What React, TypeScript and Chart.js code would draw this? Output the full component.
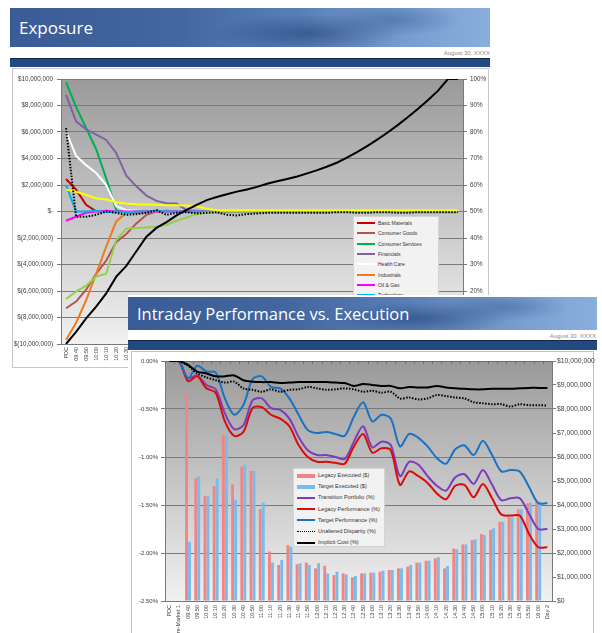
import React, { useEffect, useRef } from 'react';
import { Chart, registerables } from 'chart.js';

Chart.register(...registerables);
Chart.defaults.font.family = "'Liberation Sans', Arial, sans-serif";

// ---------- Exposure chart data ($ millions, % for completion) ----------
const timeLabels = [
  '09:40', '09:50', '10:00', '10:10', '10:20', '10:30', '10:40', '10:50', '11:00', '11:10',
  '11:20', '11:30', '11:40', '11:50', '12:00', '12:10', '12:20', '12:30', '12:40', '12:50',
  '13:00', '13:10', '13:20', '13:30', '13:40', '13:50', '14:00', '14:10', '14:20', '14:30',
  '14:40', '14:50', '15:00', '15:10', '15:20', '15:30', '15:40', '15:50', '16:00',
];
const exposureLabels = ['PDC', ...timeLabels];

const basicMaterials = [
  2.45, 1.65, 0.5, 0.02, 0, -0.04, 0, 0.02, 0, 0,
  0, 0, 0, 0, 0, 0, 0, 0, 0, 0,
  0, 0, 0, 0, 0, 0, 0, 0, 0, 0,
  0, 0, 0, 0, 0, 0, 0, 0, 0, 0,
];
const consumerGoods = [
  -7.3, -6.8, -5.9, -4.7, -3.7, -2.3, -1.7, -0.9, -0.25, 0,
  0.05, 0.02, 0, 0, 0, 0, 0, 0, 0, 0,
  0, 0, 0, 0, 0, 0, 0, 0, 0, 0,
  0, 0, 0, 0, 0, 0, 0, 0, 0, 0,
];
const consumerServices = [
  9.76, 7.9, 6.3, 4.7, 2.5, 0.1, -0.1, -0.1, -0.05, 0,
  0, 0, 0, 0, 0, 0, 0, 0, 0, 0,
  0, 0, 0, 0, 0, 0, 0, 0, 0, 0,
  0, 0, 0, 0, 0, 0, 0, 0, 0, 0,
];
const financials = [
  8.8, 6.8, 6.2, 5.8, 5.4, 4.4, 2.7, 1.9, 1.2, 0.8,
  0.62, 0.6, 0.1, 0.05, 0, 0, 0, 0, 0, 0,
  0, 0, 0, 0, 0, 0, 0, 0, 0, 0,
  0, 0, 0, 0, 0, 0, 0, 0, 0, 0,
];
const healthCare = [
  6.05, 4.2, 3.5, 2.9, 2.0, 0.4, 0.1, 0.05, 0, 0,
  0, 0, 0, 0, 0, 0, 0, 0, 0, 0,
  0, 0, 0, 0, 0, 0, 0, 0, 0, 0,
  0, 0, 0, 0, 0, 0, 0, 0, 0, 0,
];
const industrials = [
  -9.7, -8.4, -6.7, -4.7, -2.65, -0.75, -0.1, 0, 0.02, 0,
  0, 0, 0, 0, -0.05, -0.08, -0.08, -0.05, -0.05, -0.05,
  -0.05, -0.05, -0.05, -0.05, -0.05, -0.05, -0.05, 0, 0, 0,
  0, 0, 0, 0, 0, 0, 0, 0, 0, 0,
];
const oilGas = [
  -0.7, -0.4, -0.1, 0, 0.05, 0, 0, 0, 0, 0,
  0, 0, 0, 0, 0, 0, 0, 0, 0, 0,
  0, 0, 0, 0, 0, 0, 0, 0, 0, 0,
  0, 0, 0, 0, 0, 0, 0, 0, 0, 0,
];
const technology = [
  2.0, 0, 0, 0.05, -0.05, 0, -0.05, 0, 0, 0.05,
  0, 0, 0, 0, 0, 0, 0, 0, 0, 0,
  0, 0, 0, 0, 0, 0, 0, 0, 0, 0,
  0, 0, 0, 0, 0, 0, 0, 0, 0, 0,
];
const telecom = [
  -6.6, -6.05, -5.6, -4.9, -4.7, -2.15, -1.3, -1.25, -1.2, -1.15,
  -1.0, -0.7, -0.45, -0.2, -0.05, 0, 0, 0, 0, 0,
  0, 0, 0, 0, 0, 0, 0, 0, 0, 0,
  0, 0, 0, 0, 0, 0, 0, 0, 0, 0,
];
const utilities = [
  1.65, 1.5, 1.25, 1.0, 0.9, 0.7, 0.6, 0.55, 0.52, 0.5,
  0.48, 0.47, 0.45, 0.4, 0.2, 0.1, 0.1, 0.1, 0.1, 0.1,
  0.1, 0.1, 0.1, 0.1, 0.1, 0.1, 0.1, 0.1, 0.1, 0.1,
  0.1, 0.1, 0.1, 0.1, 0.1, 0.1, 0.1, 0.1, 0.1, 0.1,
];
const netExposure = [
  6.3, -0.4, -0.4, -0.25, 0, -0.1, -0.25, -0.2, -0.1, 0.1,
  -0.25, -0.1, -0.05, -0.15, -0.1, -0.05, -0.25, -0.3, -0.2, -0.15,
  -0.1, -0.1, -0.1, -0.1, -0.1, -0.1, -0.1, -0.05, -0.05, -0.1,
  -0.1, -0.05, -0.05, -0.1, -0.1, -0.05, -0.05, -0.05, -0.05, -0.05,
];
const completionPct = [
  0, 4.6, 9.7, 14.1, 19.1, 25.4, 29.5, 35, 40.5, 43.8,
  46, 48.5, 50.6, 52.5, 54.3, 55.5, 56.5, 57.5, 58.3, 59.3,
  60.5, 61.4, 62.3, 63.2, 64.4, 65.6, 67, 68.5, 70.4, 72.5,
  74.8, 77.2, 79.8, 82.6, 85.6, 88.7, 92, 95.5, 100, 100,
];

const exposureSeries = [
  { name: 'Basic Materials', data: basicMaterials, color: '#c80000' },
  { name: 'Consumer Goods', data: consumerGoods, color: '#b5524e' },
  { name: 'Consumer Services', data: consumerServices, color: '#00b050' },
  { name: 'Financials', data: financials, color: '#7f62a6' },
  { name: 'Health Care', data: healthCare, color: '#ffffff' },
  { name: 'Industrials', data: industrials, color: '#f07a1e' },
  { name: 'Oil & Gas', data: oilGas, color: '#ff00ff' },
  { name: 'Technology', data: technology, color: '#00b0f0' },
  { name: 'Telecommunications', data: telecom, color: '#92d050' },
  { name: 'Utilities', data: utilities, color: '#ffff00' },
];

// ---------- Performance chart data ----------
const perfLabels = ['PDC', 'Pre-Market 1', ...timeLabels, 'Day 2'];

const legacyExecuted = [
  null, null, 8.72, 5.11, 4.38, 4.79, 6.92, 4.86, 5.6, 5.42,
  3.83, 2.06, 1.5, 2.33, 1.53, 1.6, 1.36, 1.47, 1.08, 1.15,
  0.99, 1.15, 1.18, 1.22, 1.29, 1.36, 1.43, 1.6, 1.68, 1.78,
  1.36, 2.19, 2.36, 2.54, 2.79, 2.96, 3.3, 3.51, 3.82, 4.07,
  4.14, null,
];
const targetExecuted = [
  null, null, 2.47, 5.18, 4.38, 5.11, 6.92, 4.21, 5.69, 5.42,
  4.11, 1.61, 1.71, 2.26, 1.57, 1.5, 1.57, 1.15, 1.22, 1.11,
  1.04, 1.15, 1.18, 1.26, 1.29, 1.36, 1.5, 1.6, 1.68, 1.82,
  1.46, 2.15, 2.36, 2.57, 2.75, 3.03, 3.3, 3.49, 3.82, 4.1,
  4.14, null,
];
const transitionPortfolio = [
  0, 0, -0.18, -0.15, -0.25, -0.295, -0.545, -0.71, -0.67, -0.41,
  -0.39, -0.49, -0.51, -0.6, -0.79, -0.93, -0.98, -0.98, -1.0, -1.02,
  -0.84, -0.68, -0.9, -0.84, -0.875, -1.2, -1.05, -1.08, -1.2, -1.3,
  -1.35, -1.21, -1.18, -1.28, -1.135, -1.29, -1.45, -1.43, -1.43, -1.59,
  -1.75, -1.75,
];
const legacyPerformance = [
  0, 0, -0.21, -0.16, -0.285, -0.33, -0.63, -0.78, -0.74, -0.49,
  -0.48, -0.56, -0.6, -0.68, -0.875, -1.0, -1.05, -1.05, -1.06, -1.07,
  -0.89, -0.76, -0.955, -0.91, -0.93, -1.29, -1.15, -1.2, -1.27, -1.38,
  -1.44, -1.3, -1.29, -1.42, -1.28, -1.43, -1.6, -1.61, -1.61, -1.8,
  -1.94, -1.94,
];
const targetPerformance = [
  0, 0, -0.18, -0.05, -0.11, -0.12, -0.39, -0.56, -0.46, -0.19,
  -0.16, -0.27, -0.285, -0.39, -0.56, -0.72, -0.75, -0.74, -0.76, -0.78,
  -0.58, -0.43, -0.63, -0.56, -0.6, -0.89, -0.76, -0.8, -0.89, -1.01,
  -1.07, -0.92, -0.88, -0.98, -0.83, -0.98, -1.15, -1.135, -1.15, -1.31,
  -1.48, -1.48,
];
const unalteredDisparity = [
  0, 0, -0.05, -0.13, -0.17, -0.2, -0.225, -0.215, -0.285, -0.3,
  -0.32, -0.295, -0.32, -0.3, -0.295, -0.27, -0.285, -0.3, -0.295, -0.285,
  -0.295, -0.32, -0.31, -0.33, -0.32, -0.39, -0.38, -0.4, -0.39, -0.355,
  -0.365, -0.38, -0.39, -0.43, -0.44, -0.45, -0.45, -0.475, -0.45, -0.46,
  -0.46, -0.465,
];
const implicitCost = [
  0, 0, -0.04, -0.11, -0.13, -0.16, -0.16, -0.15, -0.2, -0.215,
  -0.22, -0.22, -0.23, -0.225, -0.22, -0.22, -0.22, -0.22, -0.225, -0.23,
  -0.26, -0.24, -0.25, -0.26, -0.26, -0.285, -0.27, -0.275, -0.275, -0.26,
  -0.275, -0.285, -0.29, -0.295, -0.295, -0.29, -0.29, -0.29, -0.285, -0.28,
  -0.28, -0.28,
];

const C_LEG_BAR = '#f08585';
const C_TGT_BAR = '#78bcec';
const C_PURPLE = '#7c3cbc';
const C_RED = '#dc0a0a';
const C_BLUE = '#1a72c4';

const perfLegend = [
  { name: 'Legacy Executed ($)', color: C_LEG_BAR, kind: 'bar' },
  { name: 'Target Executed ($)', color: C_TGT_BAR, kind: 'bar' },
  { name: 'Transition Portfolio (%)', color: C_PURPLE, kind: 'line' },
  { name: 'Legacy Performance (%)', color: C_RED, kind: 'line' },
  { name: 'Target Performance (%)', color: C_BLUE, kind: 'line' },
  { name: 'Unaltered Disparity (%)', color: '#000', kind: 'dot' },
  { name: 'Implicit Cost (%)', color: '#000', kind: 'line' },
];

// ---------- helpers ----------
const fmtNum = (n: number) => Math.round(n).toLocaleString('en-US');

const plotBg = {
  id: 'plotBg',
  beforeDraw(chart: any) {
    const { ctx, chartArea: a } = chart;
    const g = ctx.createLinearGradient(0, a.top, 0, a.bottom);
    g.addColorStop(0, '#9a9a9a');
    g.addColorStop(1, '#f1f1f1');
    ctx.save();
    ctx.fillStyle = g;
    ctx.fillRect(a.left, a.top, a.right - a.left, a.bottom - a.top);
    ctx.restore();
  },
};

const topAxisTicks = {
  id: 'topAxisTicks',
  beforeDatasetsDraw(chart: any) {
    const { ctx, chartArea: a, scales } = chart;
    const y0 = Math.round(scales.y.getPixelForValue(0));
    const n = chart.data.labels.length;
    const w = (a.right - a.left) / n;
    ctx.save();
    ctx.strokeStyle = '#6f6f6f';
    ctx.lineWidth = 1;
    ctx.beginPath();
    ctx.moveTo(a.left, y0 + 0.5);
    ctx.lineTo(a.right, y0 + 0.5);
    for (let i = 0; i <= n; i++) {
      const px = Math.round(a.left + i * w) + 0.5;
      ctx.moveTo(px, y0);
      ctx.lineTo(px, y0 + 3);
    }
    ctx.stroke();
    ctx.restore();
  },
};

function Banner(props: { left: number; top: number; width: number; height: number; title: string; size: number }) {
  const { left, top, width, height, title, size } = props;
  return (
    <div
      style={{
        position: 'absolute', left, top, width, height, overflow: 'hidden',
        background:
          'radial-gradient(ellipse 28% 70% at 62% 65%, rgba(25,55,110,0.5), rgba(25,55,110,0) 70%),' +
          'radial-gradient(ellipse 20% 60% at 80% 30%, rgba(40,80,140,0.4), rgba(40,80,140,0) 70%),' +
          'linear-gradient(90deg, #3a5b95 0%, #4467a0 35%, #5a7fb8 60%, #7b9fd0 85%, #8aaedc 100%)',
      }}
    >
      <div
        style={{
          position: 'absolute', left: 9, top: 0, height, lineHeight: height + 'px',
          color: '#ffffff', fontFamily: "'Open Sans', sans-serif", fontSize: size, whiteSpace: 'nowrap',
        }}
      >
        {title}
      </div>
    </div>
  );
}

export default function App() {
  const c1 = useRef<HTMLCanvasElement>(null);
  const c2 = useRef<HTMLCanvasElement>(null);

  useEffect(() => {
    const tickColor = '#404040';
    const gridColor = '#7a7a7a';

    const ds1: any[] = [
      {
        label: 'Completion (%)', data: completionPct, yAxisID: 'y1', borderColor: '#000000',
        borderWidth: 2, pointRadius: 0, order: 0,
      },
      {
        label: 'Net Exposure', data: netExposure, yAxisID: 'y', borderColor: '#000000',
        borderWidth: 2, borderDash: [1.5, 1.5], pointRadius: 0, order: 1,
      },
      ...exposureSeries.map((s, i) => ({
        label: s.name, data: s.data, yAxisID: 'y', borderColor: s.color,
        borderWidth: 2, pointRadius: 0, order: 12 - i,
      })),
    ];

    const ch1 = new Chart(c1.current as HTMLCanvasElement, {
      type: 'line',
      data: { labels: exposureLabels, datasets: ds1 },
      options: {
        animation: false,
        responsive: false,
        layout: { padding: { top: 10, left: 0, right: 0, bottom: 0 } },
        plugins: { legend: { display: false }, tooltip: { enabled: false } },
        scales: {
          x: {
            offset: true,
            grid: { display: false, drawTicks: false },
            border: { display: false },
            ticks: { autoSkip: false, minRotation: 90, maxRotation: 90, padding: 3, color: tickColor, font: { size: 5.5 } },
            afterFit: (s: any) => { s.height = 24; },
          },
          y: {
            position: 'left', min: -10, max: 10,
            grid: { color: gridColor, tickLength: 4 },
            border: { display: true, color: gridColor },
            ticks: {
              stepSize: 2, padding: 4, color: tickColor, font: { size: 6.3 },
              callback: (v: any) => (v === 0 ? '$-' : v > 0 ? '$' + fmtNum(v * 1e6) : '$(' + fmtNum(-v * 1e6) + ')'),
            },
            afterFit: (s: any) => { s.width = 49; },
          },
          y1: {
            position: 'right', min: 0, max: 100,
            grid: { drawOnChartArea: false, color: gridColor, tickLength: 4 },
            border: { display: true, color: gridColor },
            ticks: { stepSize: 10, padding: 3, color: tickColor, font: { size: 6.3 }, callback: (v: any) => v + '%' },
            afterFit: (s: any) => { s.width = 25; },
          },
        },
      } as any,
      plugins: [plotBg],
    });

    const lineDs = (label: string, data: number[], color: string, order: number, dash?: number[]) => ({
      type: 'line', label, data, yAxisID: 'y', borderColor: color, borderWidth: 2,
      borderDash: dash || [], pointRadius: 0, tension: 0.3, order,
    });

    const ch2 = new Chart(c2.current as HTMLCanvasElement, {
      type: 'bar',
      data: {
        labels: perfLabels,
        datasets: [
          lineDs('Implicit Cost (%)', implicitCost, '#000000', 1),
          lineDs('Unaltered Disparity (%)', unalteredDisparity, '#000000', 2, [1.5, 1.5]),
          lineDs('Target Performance (%)', targetPerformance, C_BLUE, 3),
          lineDs('Legacy Performance (%)', legacyPerformance, C_RED, 4),
          lineDs('Transition Portfolio (%)', transitionPortfolio, C_PURPLE, 5),
          {
            type: 'bar', label: 'Legacy Executed ($)', data: legacyExecuted, yAxisID: 'y1',
            backgroundColor: C_LEG_BAR, barPercentage: 0.95, categoryPercentage: 0.66, order: 10,
          },
          {
            type: 'bar', label: 'Target Executed ($)', data: targetExecuted, yAxisID: 'y1',
            backgroundColor: C_TGT_BAR, barPercentage: 0.95, categoryPercentage: 0.66, order: 11,
          },
        ] as any,
      },
      options: {
        animation: false,
        responsive: false,
        layout: { padding: { top: 9, left: 0, right: 0, bottom: 0 } },
        plugins: { legend: { display: false }, tooltip: { enabled: false } },
        scales: {
          x: {
            offset: true,
            grid: { display: false, drawTicks: false },
            border: { display: false },
            ticks: { autoSkip: false, minRotation: 90, maxRotation: 90, padding: 4, color: tickColor, font: { size: 5.5 } },
            afterFit: (s: any) => { s.height = 32; },
          },
          y: {
            position: 'left', min: -2.5, max: 0,
            grid: { color: gridColor, tickLength: 4 },
            border: { display: true, color: gridColor },
            ticks: { stepSize: 0.5, padding: 3, color: tickColor, font: { size: 6 }, callback: (v: any) => Number(v).toFixed(2) + '%' },
            afterFit: (s: any) => { s.width = 32; },
          },
          y1: {
            position: 'right', min: 0, max: 10,
            grid: { drawOnChartArea: false, color: gridColor, tickLength: 4 },
            border: { display: true, color: gridColor },
            ticks: {
              stepSize: 1, padding: 1, color: tickColor, font: { size: 6.8 },
              callback: (v: any) => (v === 0 ? '$0' : '$' + fmtNum(v * 1e6)),
            },
            afterFit: (s: any) => { s.width = 45; },
          },
        },
      } as any,
      plugins: [plotBg, topAxisTicks],
    });

    return () => {
      ch1.destroy();
      ch2.destroy();
    };
  }, []);

  const small: React.CSSProperties = { fontFamily: "'Liberation Sans', Arial, sans-serif", color: '#333' };

  return (
    <div style={{ position: 'fixed', left: 0, top: 0, width: 602, height: 633, overflow: 'hidden', background: '#ffffff' }}>
      {/* ---------- Slide 1: Exposure ---------- */}
      <Banner left={10} top={8} width={480} height={39} title="Exposure" size={17} />
      <div style={{ position: 'absolute', left: 10, top: 50, width: 480, textAlign: 'right', fontSize: 6, color: '#8a8a8a', fontFamily: "'Liberation Sans', Arial, sans-serif" }}>
        August 30, XXXX
      </div>
      <div style={{ position: 'absolute', left: 10, top: 58, width: 480, height: 9, background: '#234a80', borderTop: '1px solid #13294d', boxSizing: 'border-box' }} />
      <div style={{ position: 'absolute', left: 12, top: 68, width: 477, height: 300, border: '1px solid #c6c6c6', boxSizing: 'border-box', background: '#fff' }} />
      <canvas ref={c1} width={476} height={299} style={{ position: 'absolute', left: 12, top: 69 }} />
      <div style={{ position: 'absolute', left: 353, top: 216, width: 86, height: 140, background: '#f2f2f2', border: '1px solid #d4d4d4', boxSizing: 'border-box' }}>
        {exposureSeries.map((s, i) => (
          <div key={s.name} style={{ position: 'absolute', left: 3, top: 2 + i * 10.3, height: 8, width: 82, ...small }}>
            <div style={{ position: 'absolute', left: 0, top: 3, width: 18, height: 2, background: s.color }} />
            <div style={{ position: 'absolute', left: 21, top: 0, fontSize: 5, lineHeight: '8px', whiteSpace: 'nowrap' }}>{s.name}</div>
          </div>
        ))}
      </div>

      {/* ---------- Slide 2: Intraday Performance vs. Execution ---------- */}
      <div style={{ position: 'absolute', left: 128, top: 295, width: 474, height: 338, background: '#ffffff' }} />
      <Banner left={128} top={297} width={469} height={33} title="Intraday Performance vs. Execution" size={16.5} />
      <div style={{ position: 'absolute', left: 128, top: 333, width: 468, textAlign: 'right', fontSize: 6, color: '#8a8a8a', fontFamily: "'Liberation Sans', Arial, sans-serif" }}>
        August 30, XXXX
      </div>
      <div style={{ position: 'absolute', left: 128, top: 340, width: 469, height: 10, background: '#234a80', borderTop: '1px solid #13294d', boxSizing: 'border-box' }} />
      <div style={{ position: 'absolute', left: 131, top: 351, width: 463, height: 300, border: '1px solid #c0c0c0', boxSizing: 'border-box', background: '#fff' }} />
      <canvas ref={c2} width={464} height={281} style={{ position: 'absolute', left: 133, top: 352 }} />
      <div style={{ position: 'absolute', left: 293, top: 468, width: 92, height: 79, background: '#f2f2f2', border: '1px solid #d4d4d4', boxSizing: 'border-box' }}>
        {perfLegend.map((s, i) => (
          <div key={s.name} style={{ position: 'absolute', left: 3, top: 2 + i * 11.2, height: 9, width: 88, ...small }}>
            {s.kind === 'bar' && (
              <div style={{ position: 'absolute', left: 0, top: 2.5, width: 18, height: 4, background: s.color }} />
            )}
            {s.kind === 'line' && (
              <div style={{ position: 'absolute', left: 0, top: 3.5, width: 18, height: 2, background: s.color }} />
            )}
            {s.kind === 'dot' && (
              <div style={{ position: 'absolute', left: 0, top: 3.5, width: 18, height: 0, borderTop: '1.5px dotted #000' }} />
            )}
            <div style={{ position: 'absolute', left: 21, top: 0, fontSize: 5.6, lineHeight: '9px', whiteSpace: 'nowrap' }}>{s.name}</div>
          </div>
        ))}
      </div>
    </div>
  );
}
